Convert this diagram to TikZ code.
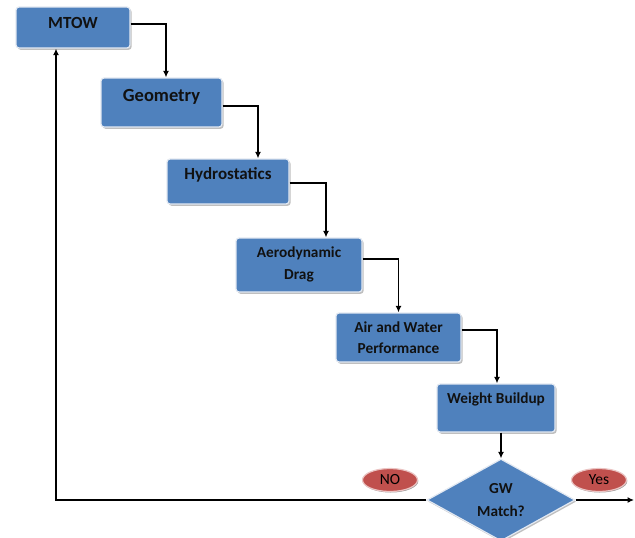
\documentclass[tikz,border=0pt]{standalone}
\usepackage{fontspec}
\setmainfont{Carlito}
\usetikzlibrary{shapes.geometric,shadows,arrows.meta,calc}
\definecolor{boxblue}{HTML}{4F81BD}
\definecolor{boxedge}{HTML}{E3E9F2}
\definecolor{ovalred}{HTML}{C0504D}
\definecolor{ovaledge}{HTML}{EBC4C3}
\definecolor{txt}{HTML}{111111}
\definecolor{ovalshadow}{HTML}{9A9A9A}
\tikzset{
  box/.style={rectangle, rounded corners=3pt, fill=boxblue, draw=boxedge, line width=1.2pt,
    drop shadow={shadow xshift=1.6pt, shadow yshift=-1.8pt, fill=black!45, opacity=0.55}},
  lbl/.style={font=\bfseries, text=txt, align=center, inner sep=0pt},
  decision/.style={diamond, aspect=1.8, fill=boxblue, draw=boxedge, line width=1.2pt, inner sep=1pt,
    font=\bfseries\fontsize{15.3}{23}\selectfont, text=txt, align=center,
    minimum width=148pt, minimum height=82pt,
    drop shadow={shadow xshift=1.2pt, shadow yshift=-1.6pt, fill=black!45, opacity=0.55}},
  oval/.style={ellipse, fill=ovalred, draw=ovaledge, line width=1.2pt, inner sep=0pt,
    minimum width=55pt, minimum height=23pt, text=black, font=\fontsize{15.5}{18}\selectfont,
    general shadow={shadow xshift=0.8pt, shadow yshift=-1pt, fill=ovalshadow}},
  arr/.style={draw=black, line width=1.3pt, -{Latex[length=6.5pt,width=6pt]}},
}
\begin{document}
\begin{tikzpicture}[x=1pt,y=-1pt]
\path[use as bounding box, clip] (0,0) rectangle (635,538);
\fill[white] (0,0) rectangle (635,538);

\node[box, minimum width=114pt, minimum height=41pt,
  label={[lbl, font=\bfseries\fontsize{17}{20}\selectfont, yshift=4.5pt]center:MTOW}] (m) at (73,27.5) {};
\node[box, minimum width=121pt, minimum height=49pt,
  label={[lbl, font=\bfseries\fontsize{18.5}{22}\selectfont, yshift=5.5pt]center:Geometry}] (g) at (161.5,102.5) {};
\node[box, minimum width=122pt, minimum height=45pt,
  label={[lbl, font=\bfseries\fontsize{17}{20}\selectfont, yshift=6.5pt]center:Hydrostatics}] (h) at (228,181.5) {};
\node[box, minimum width=126pt, minimum height=54pt,
  label={[lbl, font=\bfseries\fontsize{15.3}{22}\selectfont, yshift=1pt]center:{Aerodynamic\\Drag}}] (a) at (299,265) {};
\node[box, minimum width=125pt, minimum height=49pt,
  label={[lbl, font=\bfseries\fontsize{15.3}{21}\selectfont]center:{Air and Water\\Performance}}] (p) at (398.5,337.5) {};
\node[box, minimum width=118pt, minimum height=48pt,
  label={[lbl, font=\bfseries\fontsize{15.3}{20}\selectfont, yshift=9pt]center:Weight Buildup}] (wb) at (496,408) {};

\node[decision] (gw) at (501,500) {GW\\Match?};

\node[oval] (no) at (390,480) {NO};
\node[oval] (yes) at (599,480) {Yes};

\coordinate (loop) at (56,500);
\coordinate (yesend) at (634,500);

\draw[arr] ([yshift=3.5pt]m.east) -| ([xshift=4.5pt]g.north);
\draw[arr] ([yshift=-3.5pt]g.east) -| ([xshift=30pt]h.north);
\draw[arr] ([yshift=-1.5pt]h.east) -| ([xshift=27pt]a.north);
\draw[arr] ([yshift=6pt]a.east) -| (p.north);
\draw[arr] ([yshift=7.5pt]p.east) -| ([xshift=1pt]wb.north);
\draw[arr] (gw.north |- wb.south) -- (gw.north);
\draw[arr] (gw.west) -- (loop) -- (loop |- m.south);
\draw[arr] (gw.east) -- (yesend);
\end{tikzpicture}
\end{document}
